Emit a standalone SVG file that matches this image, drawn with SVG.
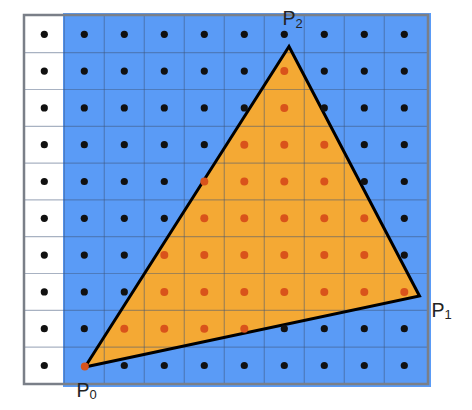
<svg xmlns="http://www.w3.org/2000/svg" width="472" height="410" viewBox="0 0 472 410">
<style>
.bk{fill:#111}
.or{fill:#D9531B}
.gl{stroke:#3f5577;stroke-opacity:0.45;stroke-width:1.2;fill:none}
.lbl{font-family:"Liberation Sans",Arial,sans-serif;fill:#222}
</style>
<rect x="0" y="0" width="472" height="410" fill="#fff"/>
<g id="grid-bg">
<rect x="24" y="15" width="404" height="369" fill="#fff"/>
<rect x="63" y="13" width="368" height="374" fill="#5A9BF6"/>
</g>
<g id="triangle">
<polygon points="85,367 289,46.5 419.5,296" fill="#F4A934"/>
</g>
<g id="gridlines" class="gl">
<path d="M64.3 15V384M104.3 15V384M144.3 15V384M184.3 15V384M224.3 15V384M264.3 15V384M304.3 15V384M344.3 15V384M384.3 15V384"/>
<path d="M24 52.7H428M24 89.5H428M24 126.3H428M24 163.1H428M24 199.9H428M24 236.7H428M24 273.5H428M24 310.3H428M24 347.1H428"/>
</g>
<g id="edges">
<polygon points="85,367 289,46.5 419.5,296" fill="none" stroke="#000" stroke-width="3" stroke-linejoin="miter"/>
</g>
<rect x="24" y="15" width="404" height="369" fill="none" stroke="#7a7f88" stroke-width="2.5"/>
<g id="samples">
<!-- row 0 -->
<g transform="translate(0,34.3)">
<circle class="bk" cx="44.3" cy="0" r="3.6"/><circle class="bk" cx="84.3" cy="0" r="3.6"/><circle class="bk" cx="124.3" cy="0" r="3.6"/><circle class="bk" cx="164.3" cy="0" r="3.6"/><circle class="bk" cx="204.3" cy="0" r="3.6"/><circle class="bk" cx="244.3" cy="0" r="3.6"/><circle class="bk" cx="284.3" cy="0" r="3.6"/><circle class="bk" cx="324.3" cy="0" r="3.6"/><circle class="bk" cx="364.3" cy="0" r="3.6"/><circle class="bk" cx="404.3" cy="0" r="3.6"/>
</g>
<g transform="translate(0,71.1)">
<circle class="bk" cx="44.3" cy="0" r="3.6"/><circle class="bk" cx="84.3" cy="0" r="3.6"/><circle class="bk" cx="124.3" cy="0" r="3.6"/><circle class="bk" cx="164.3" cy="0" r="3.6"/><circle class="bk" cx="204.3" cy="0" r="3.6"/><circle class="bk" cx="244.3" cy="0" r="3.6"/><circle class="or" cx="284.3" cy="0" r="4"/><circle class="bk" cx="324.3" cy="0" r="3.6"/><circle class="bk" cx="364.3" cy="0" r="3.6"/><circle class="bk" cx="404.3" cy="0" r="3.6"/>
</g>
<g transform="translate(0,107.9)">
<circle class="bk" cx="44.3" cy="0" r="3.6"/><circle class="bk" cx="84.3" cy="0" r="3.6"/><circle class="bk" cx="124.3" cy="0" r="3.6"/><circle class="bk" cx="164.3" cy="0" r="3.6"/><circle class="bk" cx="204.3" cy="0" r="3.6"/><circle class="bk" cx="244.3" cy="0" r="3.6"/><circle class="or" cx="284.3" cy="0" r="4"/><circle class="bk" cx="324.3" cy="0" r="3.6"/><circle class="bk" cx="364.3" cy="0" r="3.6"/><circle class="bk" cx="404.3" cy="0" r="3.6"/>
</g>
<g transform="translate(0,144.7)">
<circle class="bk" cx="44.3" cy="0" r="3.6"/><circle class="bk" cx="84.3" cy="0" r="3.6"/><circle class="bk" cx="124.3" cy="0" r="3.6"/><circle class="bk" cx="164.3" cy="0" r="3.6"/><circle class="bk" cx="204.3" cy="0" r="3.6"/><circle class="or" cx="244.3" cy="0" r="4"/><circle class="or" cx="284.3" cy="0" r="4"/><circle class="or" cx="324.3" cy="0" r="4"/><circle class="bk" cx="364.3" cy="0" r="3.6"/><circle class="bk" cx="404.3" cy="0" r="3.6"/>
</g>
<g transform="translate(0,181.5)">
<circle class="bk" cx="44.3" cy="0" r="3.6"/><circle class="bk" cx="84.3" cy="0" r="3.6"/><circle class="bk" cx="124.3" cy="0" r="3.6"/><circle class="bk" cx="164.3" cy="0" r="3.6"/><circle class="or" cx="204.3" cy="0" r="4"/><circle class="or" cx="244.3" cy="0" r="4"/><circle class="or" cx="284.3" cy="0" r="4"/><circle class="or" cx="324.3" cy="0" r="4"/><circle class="bk" cx="364.3" cy="0" r="3.6"/><circle class="bk" cx="404.3" cy="0" r="3.6"/>
</g>
<g transform="translate(0,218.3)">
<circle class="bk" cx="44.3" cy="0" r="3.6"/><circle class="bk" cx="84.3" cy="0" r="3.6"/><circle class="bk" cx="124.3" cy="0" r="3.6"/><circle class="bk" cx="164.3" cy="0" r="3.6"/><circle class="or" cx="204.3" cy="0" r="4"/><circle class="or" cx="244.3" cy="0" r="4"/><circle class="or" cx="284.3" cy="0" r="4"/><circle class="or" cx="324.3" cy="0" r="4"/><circle class="or" cx="364.3" cy="0" r="4"/><circle class="bk" cx="404.3" cy="0" r="3.6"/>
</g>
<g transform="translate(0,255.1)">
<circle class="bk" cx="44.3" cy="0" r="3.6"/><circle class="bk" cx="84.3" cy="0" r="3.6"/><circle class="bk" cx="124.3" cy="0" r="3.6"/><circle class="or" cx="164.3" cy="0" r="4"/><circle class="or" cx="204.3" cy="0" r="4"/><circle class="or" cx="244.3" cy="0" r="4"/><circle class="or" cx="284.3" cy="0" r="4"/><circle class="or" cx="324.3" cy="0" r="4"/><circle class="or" cx="364.3" cy="0" r="4"/><circle class="bk" cx="404.3" cy="0" r="3.6"/>
</g>
<g transform="translate(0,291.9)">
<circle class="bk" cx="44.3" cy="0" r="3.6"/><circle class="bk" cx="84.3" cy="0" r="3.6"/><circle class="bk" cx="124.3" cy="0" r="3.6"/><circle class="or" cx="164.3" cy="0" r="4"/><circle class="or" cx="204.3" cy="0" r="4"/><circle class="or" cx="244.3" cy="0" r="4"/><circle class="or" cx="284.3" cy="0" r="4"/><circle class="or" cx="324.3" cy="0" r="4"/><circle class="or" cx="364.3" cy="0" r="4"/><circle class="or" cx="404.3" cy="0" r="4"/>
</g>
<g transform="translate(0,328.7)">
<circle class="bk" cx="44.3" cy="0" r="3.6"/><circle class="bk" cx="84.3" cy="0" r="3.6"/><circle class="or" cx="124.3" cy="0" r="4"/><circle class="or" cx="164.3" cy="0" r="4"/><circle class="or" cx="204.3" cy="0" r="4"/><circle class="or" cx="244.3" cy="0" r="4"/><circle class="bk" cx="284.3" cy="0" r="3.6"/><circle class="bk" cx="324.3" cy="0" r="3.6"/><circle class="bk" cx="364.3" cy="0" r="3.6"/><circle class="bk" cx="404.3" cy="0" r="3.6"/>
</g>
<g transform="translate(0,365.5)">
<circle class="bk" cx="44.3" cy="0" r="3.6"/><circle class="or" cx="84.8" cy="1" r="4"/><circle class="bk" cx="124.3" cy="0" r="3.6"/><circle class="bk" cx="164.3" cy="0" r="3.6"/><circle class="bk" cx="204.3" cy="0" r="3.6"/><circle class="bk" cx="244.3" cy="0" r="3.6"/><circle class="bk" cx="284.3" cy="0" r="3.6"/><circle class="bk" cx="324.3" cy="0" r="3.6"/><circle class="bk" cx="364.3" cy="0" r="3.6"/><circle class="bk" cx="404.3" cy="0" r="3.6"/>
</g>
</g>
<g id="P0"><text class="lbl" x="76.5" y="396.5" font-size="19.5">P<tspan font-size="13" dy="2.5">0</tspan></text></g>
<g id="P1"><text class="lbl" x="431.5" y="316.5" font-size="19.5">P<tspan font-size="13" dy="2.5">1</tspan></text></g>
<g id="P2"><text class="lbl" x="282.5" y="25" font-size="19.5">P<tspan font-size="13" dy="2.5">2</tspan></text></g>
</svg>
